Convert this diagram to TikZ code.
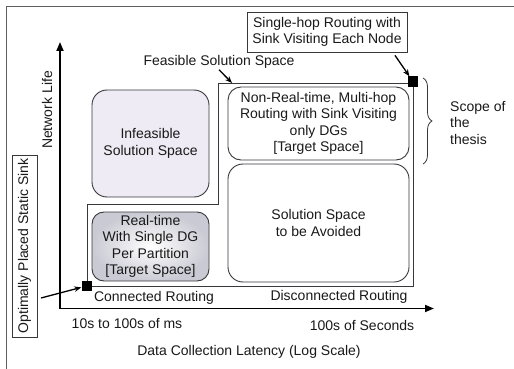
\documentclass[tikz,border=0pt]{standalone}
\usepackage{fontspec}
\setmainfont{Liberation Sans}
\usetikzlibrary{arrows.meta,decorations.pathreplacing}
\definecolor{ink}{RGB}{25,25,25}
\definecolor{edge}{RGB}{55,55,60}
\definecolor{lavender}{RGB}{238,235,244}
\definecolor{shadeGray}{RGB}{202,202,212}
\definecolor{frameGray}{RGB}{95,95,95}
\begin{document}
\begin{tikzpicture}[x=1pt,y=-1pt,
  font=\fontsize{14}{16.5}\selectfont,
  region/.style={draw=edge, line width=0.9pt, align=center, inner sep=0pt, text=ink},
  marker/.style={fill=black, minimum size=10pt, inner sep=0pt},
  lbl/.style={text=ink, inner sep=0pt},
  boxlbl/.style={draw=edge, line width=0.8pt, align=center, inner sep=0pt, text=ink},
  axisline/.style={line width=1.8pt, -{Triangle[length=9pt,width=7pt]}},
  pointer/.style={line width=1.3pt, -{Stealth[length=7pt,width=5.5pt]}}]
\useasboundingbox (0,0) rectangle (514,369);

% outer frame
\draw[frameGray, line width=1.3pt] (6.5,369) -- (6.5,6.5) -- (514,6.5);

% axes
\coordinate (origin) at (60,308.5);
\coordinate (yTip) at (60,42);
\coordinate (xTip) at (434,308.5);
\draw[axisline] (origin) -- (yTip);
\draw[axisline] ([xshift=-0.9pt]origin) -- (xTip);

% feasible solution space outline
\draw[edge, line width=0.7pt] (87,204) -- (87,286) -- (413,286) -- (413,83) -- (218,83) -- (218,204) -- cycle;
\coordinate (feasCorner) at (232,83);

% solution regions
\node[region, rounded corners=15pt, fill=lavender, minimum width=117pt, minimum height=107pt]
  (infeasible) at (150.5,143.5) {Infeasible\\Solution Space};
\node[region, rounded corners=12pt, inner color=white, outer color=shadeGray, minimum width=117pt, minimum height=69pt]
  (realtime) at (150.5,246.5) {Real-time\\With Single DG\\Per Partition\\{[Target Space]}};
\node[region, rounded corners=13pt, minimum width=181pt, minimum height=73pt]
  (nonrt) at (318.5,123.5) {Non-Real-time, Multi-hop\\Routing with Sink Visiting\\only DGs\\{[Target Space]}};
\node[region, rounded corners=15pt, minimum width=181pt, minimum height=118pt]
  (avoid) at (318.5,223) {Solution Space\\to be Avoided};

% sink markers
\node[marker] (sinkA) at (86.5,286) {};
\node[marker] (sinkB) at (413,81.5) {};

% labels
\node[lbl, rotate=90] (netlife) at (47,110) {Network Life};
\node[lbl] (feasible) at (219,62) {Feasible Solution Space};
\node[boxlbl, minimum width=160pt, minimum height=40pt] (singlehop) at (327,32)
  {Single-hop Routing with\\Sink Visiting Each Node};
\node[boxlbl, rotate=90, minimum width=182pt, minimum height=25pt] (optsink) at (24.5,246)
  {Optimally Placed Static Sink};
\node[lbl, anchor=west, align=left] (scope) at (450,123) {Scope of\\the\\thesis};
\node[lbl] (connected) at (154,298) {Connected Routing};
\node[lbl] (disconnected) at (339,297) {Disconnected Routing};
\node[lbl] (fast) at (127,324) {10s to 100s of ms};
\node[lbl] (slow) at (362,325) {100s of Seconds};
\node[lbl] (xlabel) at (249,352) {Data Collection Latency (Log Scale)};

% pointers
\coordinate (optTail) at (41,298);
\draw[pointer] (optTail) -- (sinkA);
\draw[pointer] ([xshift=68pt,yshift=-3pt]singlehop.south) -- (sinkB);
\draw[pointer] ([yshift=-1pt]feasible.south) -- (feasCorner);

% scope brace
\coordinate (scopeTop) at (423,78);
\coordinate (scopeBot) at (423,164);
\draw[edge, line width=0.8pt, decorate, decoration={brace, amplitude=9pt}] (scopeTop) -- (scopeBot);
\end{tikzpicture}
\end{document}
